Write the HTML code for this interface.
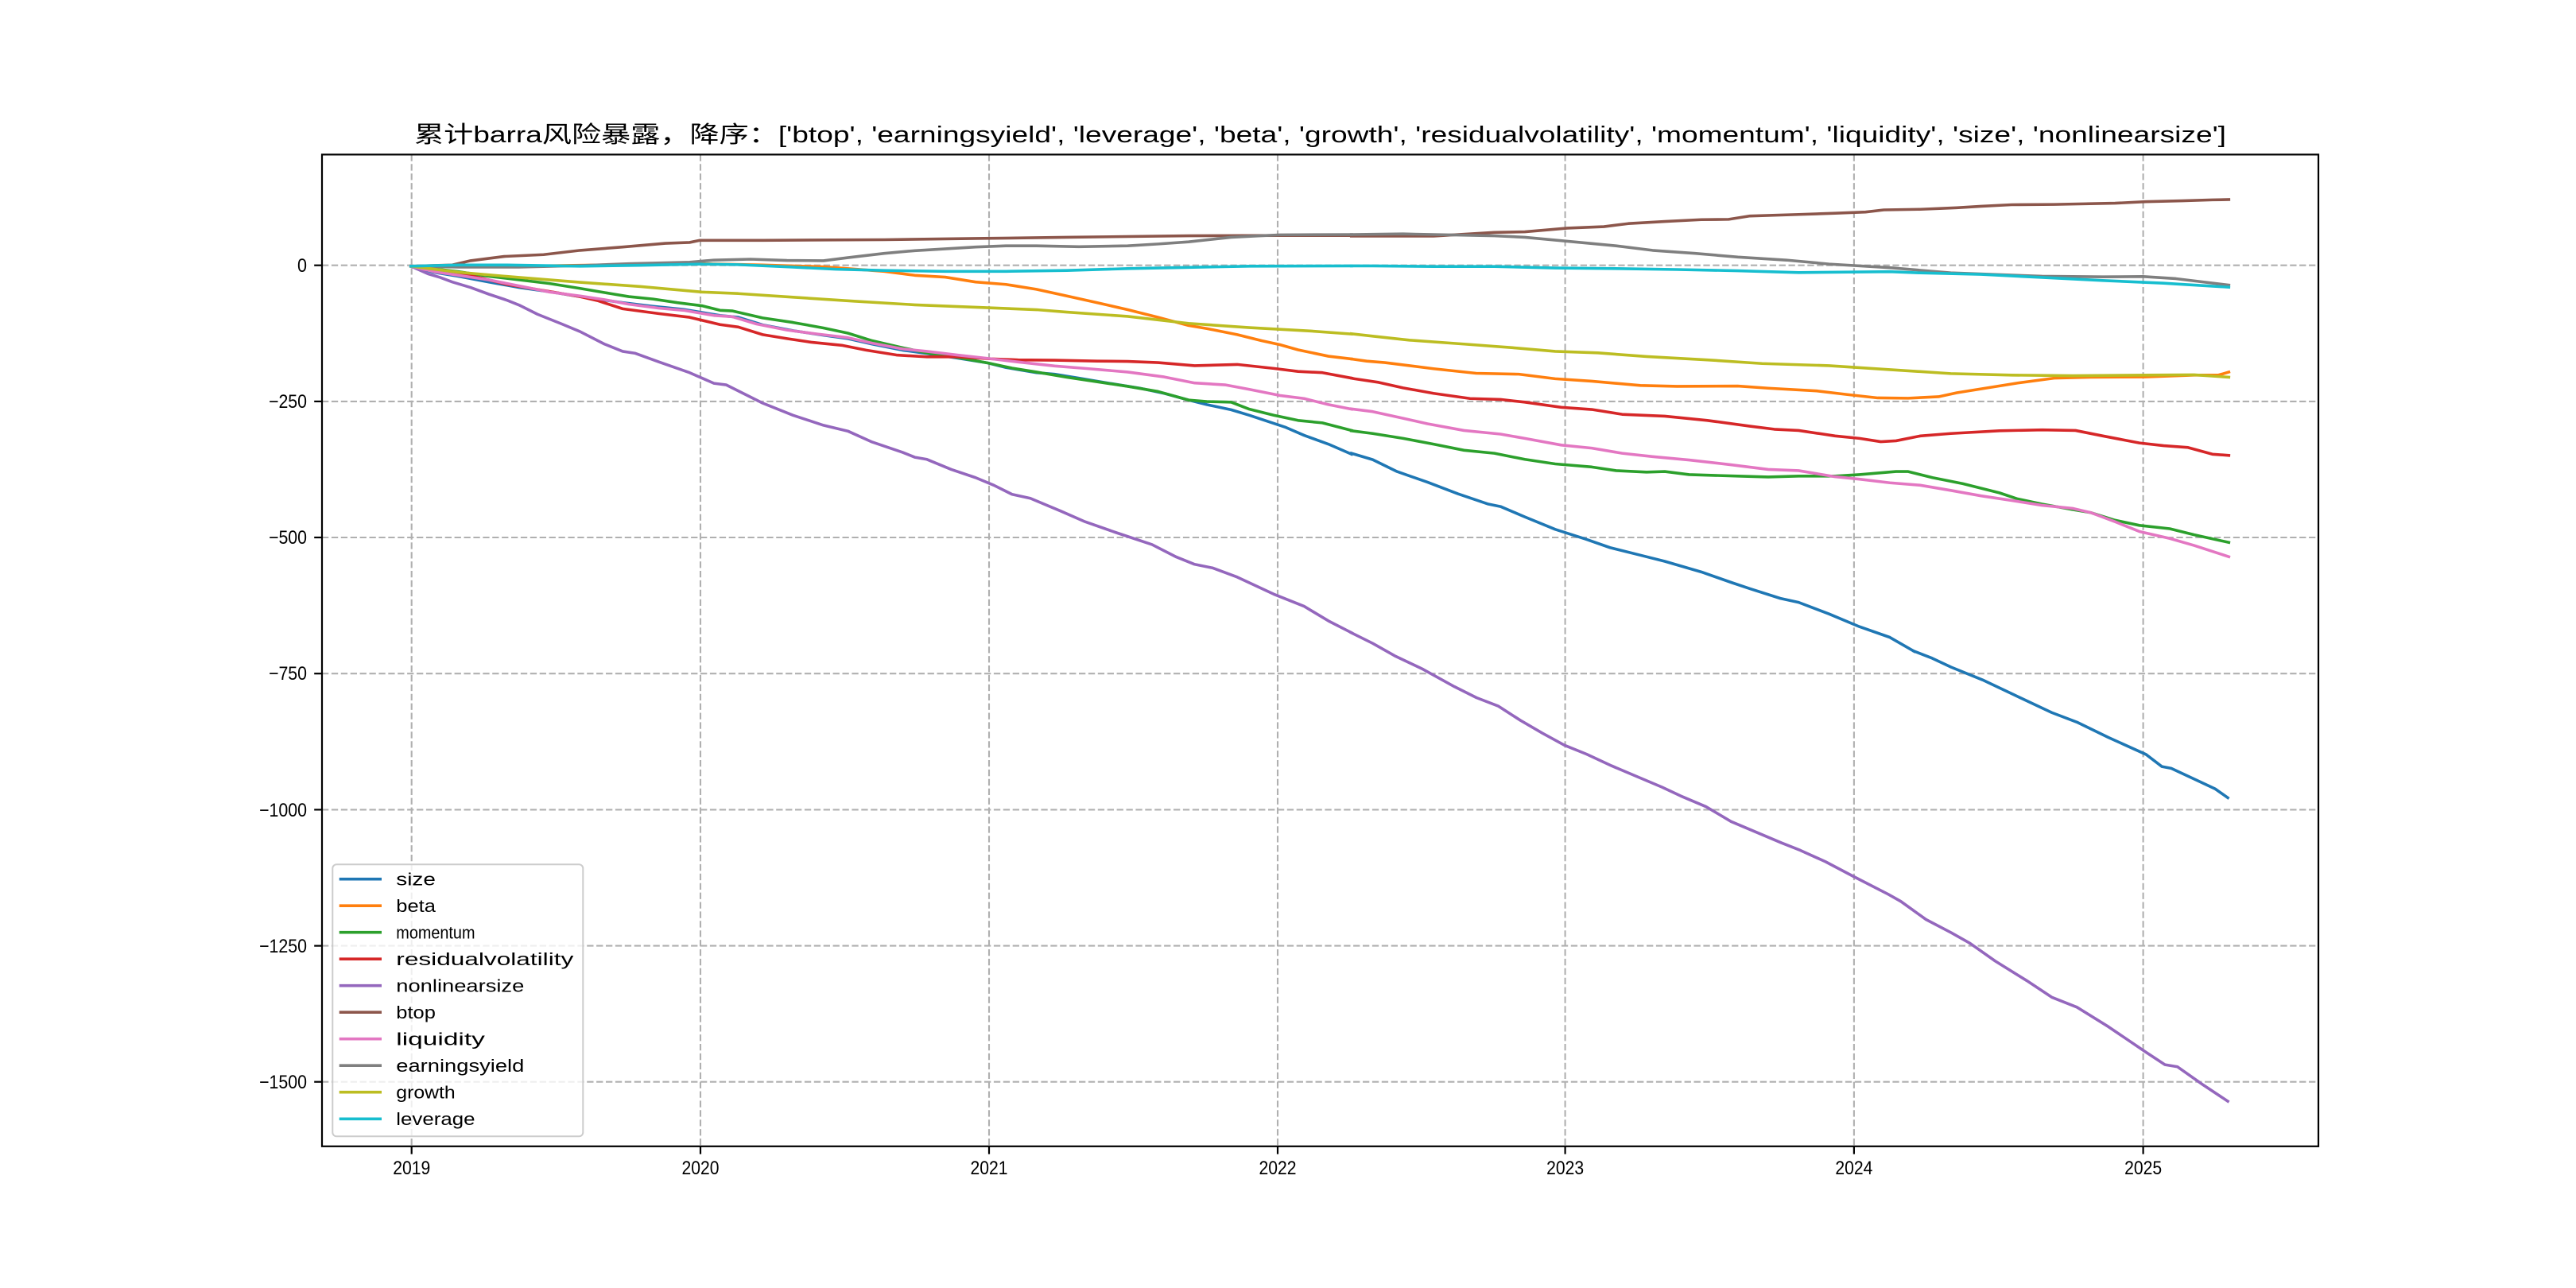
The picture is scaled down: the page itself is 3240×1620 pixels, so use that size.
<!DOCTYPE html>
<html><head><meta charset="utf-8"><style>
html,body{margin:0;padding:0;background:#fff;}
svg{display:block;}
text{font-family:"Liberation Sans","Noto Sans CJK SC",sans-serif;fill:#000;}
</style></head><body>
<svg width="3240" height="1620" viewBox="0 0 3240 1620" xmlns="http://www.w3.org/2000/svg">
<rect x="0" y="0" width="3240" height="1620" fill="#fff"/>
<!-- grid -->
<g stroke="#b0b0b0" stroke-width="2.1" stroke-dasharray="8.3 3.6" fill="none">
<line x1="517.7" y1="194.4" x2="517.7" y2="1441.8"/>
<line x1="881" y1="194.4" x2="881" y2="1441.8"/>
<line x1="1244" y1="194.4" x2="1244" y2="1441.8"/>
<line x1="1607" y1="194.4" x2="1607" y2="1441.8"/>
<line x1="1968.6" y1="194.4" x2="1968.6" y2="1441.8"/>
<line x1="2331.9" y1="194.4" x2="2331.9" y2="1441.8"/>
<line x1="2695.6" y1="194.4" x2="2695.6" y2="1441.8"/>
<line x1="405" y1="333.7" x2="2916" y2="333.7"/>
<line x1="405" y1="504.9" x2="2916" y2="504.9"/>
<line x1="405" y1="676" x2="2916" y2="676"/>
<line x1="405" y1="847.2" x2="2916" y2="847.2"/>
<line x1="405" y1="1018.4" x2="2916" y2="1018.4"/>
<line x1="405" y1="1189.6" x2="2916" y2="1189.6"/>
<line x1="405" y1="1360.7" x2="2916" y2="1360.7"/>
</g>
<!-- series -->
<g fill="none" stroke-width="3.6" stroke-linejoin="round" stroke-linecap="square">
<!-- size -->
<g stroke="#1f77b4">
<polyline vector-effect="non-scaling-stroke" transform="translate(500,220) scale(0.76531,0.38265)" points="22,300 60,320 100,333 150,352 200,370 250,384 300,400 370,420 420,432 470,442 530,462 560,468 600,493 650,512 700,527 740,538 780,556 830,576 870,587 920,602 970,618 1000,633 1050,650 1080,655 1120,668 1170,685 1220,701 1260,718 1300,740 1330,755 1370,772 1400,790 1430,810 1460,830 1490,856 1530,885 1568,918"/>
<polyline vector-effect="non-scaling-stroke" transform="translate(1650,220) scale(0.76531,0.38265)" points="65,915 100,936 140,975 190,1010 240,1048 290,1082 310,1090 350,1124 400,1165 450,1197 490,1225 540,1250 580,1270 640,1305 690,1340 720,1360 770,1392 800,1405 850,1443 900,1485 950,1520 990,1566"/>
<polyline vector-effect="non-scaling-stroke" transform="translate(1600,740) scale(0.79083,0.44643)" points="1021,177 1050,197 1080,222 1130,258 1180,300 1240,350 1280,377 1330,420 1390,468 1415,502 1430,507 1470,540 1500,565 1520,590"/>
</g>
<!-- beta -->
<g stroke="#ff7f0e">
<polyline vector-effect="non-scaling-stroke" transform="translate(500,220) scale(0.76531,0.38265)" points="22,300 200,300 400,294 500,292 600,296 700,302 800,317 850,330 900,336 950,352 1000,360 1050,376 1100,398 1150,420 1200,443 1250,468 1300,495 1330,505 1380,525 1420,545 1450,558 1480,575 1530,596 1568,605"/>
<polyline vector-effect="non-scaling-stroke" transform="translate(1650,220) scale(0.76531,0.38265)" points="65,605 90,612 120,617 200,637 270,652 340,655 400,670 460,678 540,692 600,695 700,694 750,701 830,710 880,722 930,733 980,734 1030,729 1060,716 1110,700 1160,684 1220,668 1280,665 1370,664 1450,658 1490,658 1507,648"/>
</g>
<!-- momentum -->
<g stroke="#2ca02c">
<polyline vector-effect="non-scaling-stroke" transform="translate(500,220) scale(0.76531,0.38265)" points="22,300 100,318 150,333 200,345 250,357 300,373 350,390 380,400 420,408 460,420 500,430 530,445 550,447 600,470 650,485 700,503 740,520 780,545 830,568 870,585 920,600 970,618 1010,635 1050,648 1100,665 1150,680 1200,695 1250,712 1300,740 1330,745 1370,747 1400,770 1440,790 1480,807 1520,815 1568,840"/>
<polyline vector-effect="non-scaling-stroke" transform="translate(1650,220) scale(0.76531,0.38265)" points="65,841 100,850 150,866 200,885 250,905 300,915 350,935 400,950 460,960 500,972 550,977 580,975 620,985 700,990 750,993 800,990 860,990 900,985 960,975 980,975 1020,995 1070,1015 1130,1045 1160,1065 1200,1082 1250,1100 1280,1110 1320,1135 1360,1152 1410,1163 1450,1183 1507,1208"/>
</g>
<!-- residualvolatility -->
<g stroke="#d62728">
<polyline vector-effect="non-scaling-stroke" transform="translate(500,220) scale(0.76531,0.38265)" points="22,300 60,313 100,323 140,340 180,360 240,380 300,400 330,414 370,440 430,456 480,468 530,492 560,500 600,525 640,538 680,550 730,560 770,576 820,592 870,598 920,598 970,604 1020,608 1080,609 1150,612 1200,613 1250,617 1310,627 1380,623 1440,636 1480,646 1520,650 1568,668"/>
<polyline vector-effect="non-scaling-stroke" transform="translate(1650,220) scale(0.76531,0.38265)" points="65,668 70,670 110,682 150,700 200,718 260,735 310,738 350,747 410,764 460,771 510,787 580,793 650,807 720,826 760,836 800,840 860,858 900,866 935,877 960,874 1000,858 1050,850 1130,841 1200,838 1255,840 1300,858 1360,881 1400,890 1440,896 1480,918 1507,922"/>
</g>
<!-- nonlinearsize -->
<g stroke="#9467bd">
<polyline vector-effect="non-scaling-stroke" transform="translate(500,220) scale(0.76531,0.38265)" points="22,300 50,325 70,337 90,352 120,370 150,392 180,412 200,428 230,458 270,490 300,515 340,556 370,580 390,586 430,615 480,650 520,685 540,690 570,720 600,750 650,790 700,823 740,842 780,878 830,912 850,928 870,935 910,968 950,995 980,1020 1010,1050 1040,1063 1090,1105 1130,1140 1180,1175 1240,1215 1280,1256 1310,1280 1340,1292 1380,1322 1440,1378 1490,1418 1530,1466 1568,1505"/>
<polyline vector-effect="non-scaling-stroke" transform="translate(1600,740) scale(0.79083,0.44643)" points="126,125 160,155 195,190 240,228 290,277 325,308 360,332 395,372 430,408 465,442 500,467 540,500 580,530 620,560 650,585 690,615 730,657 770,687 810,717 840,738 880,770 925,812 980,862 1000,882 1040,933 1080,970 1110,1000 1150,1050 1200,1105 1240,1152 1280,1180 1330,1235 1390,1307 1420,1342 1440,1348 1480,1398 1520,1445"/>
</g>
<!-- btop -->
<g stroke="#8c564b">
<polyline vector-effect="non-scaling-stroke" transform="translate(500,220) scale(0.76531,0.38265)" points="22,300 90,296 120,282 175,268 240,262 300,248 370,237 440,225 480,222 497,215 600,215 800,213 950,209 1100,205 1300,200 1450,199 1568,199"/>
<polyline vector-effect="non-scaling-stroke" transform="translate(1650,220) scale(0.76531,0.38265)" points="65,201 200,201 300,189 350,187 420,175 480,170 520,160 580,153 640,147 685,146 720,135 800,130 860,126 910,122 940,115 1000,113 1060,108 1100,103 1150,98 1220,97 1320,93 1370,88 1430,85 1480,82 1507,81"/>
</g>
<!-- liquidity -->
<g stroke="#e377c2">
<polyline vector-effect="non-scaling-stroke" transform="translate(500,220) scale(0.76531,0.38265)" points="22,300 60,318 100,330 150,345 200,365 250,385 300,398 340,410 380,425 430,438 470,445 520,462 550,466 590,490 640,510 690,523 740,535 780,553 830,572 870,580 920,592 970,603 1020,615 1080,628 1130,636 1200,648 1260,664 1310,684 1360,690 1400,705 1450,725 1490,735 1530,755 1568,770"/>
<polyline vector-effect="non-scaling-stroke" transform="translate(1650,220) scale(0.76531,0.38265)" points="65,769 100,778 150,800 190,818 250,840 310,852 350,866 410,888 460,898 510,915 560,926 620,937 690,953 750,968 800,972 860,992 900,1000 950,1012 1000,1020 1050,1037 1100,1055 1150,1070 1200,1086 1250,1096 1280,1110 1320,1140 1360,1172 1410,1195 1450,1218 1507,1255"/>
</g>
<!-- earningsyield -->
<g stroke="#7f7f7f">
<polyline vector-effect="non-scaling-stroke" transform="translate(500,220) scale(0.76531,0.38265)" points="22,300 100,303 200,303 300,298 380,292 480,287 520,280 580,277 640,281 700,282 740,272 800,258 850,249 950,237 1000,233 1050,233 1120,236 1200,233 1250,227 1300,220 1370,205 1450,197 1568,196"/>
<polyline vector-effect="non-scaling-stroke" transform="translate(1650,220) scale(0.76531,0.38265)" points="65,196 150,194 300,200 350,205 420,218 500,233 560,248 630,258 700,270 780,280 850,293 950,305 1050,322 1200,333 1300,335 1366,334 1420,341 1507,362"/>
</g>
<!-- growth -->
<g stroke="#bcbd22">
<polyline vector-effect="non-scaling-stroke" transform="translate(500,220) scale(0.76531,0.38265)" points="22,300 100,320 200,337 300,353 400,367 500,385 560,390 650,402 750,415 850,427 950,435 1050,443 1100,451 1200,465 1300,488 1400,502 1500,513 1568,523"/>
<polyline vector-effect="non-scaling-stroke" transform="translate(1650,220) scale(0.76531,0.38265)" points="65,522 100,530 160,543 250,556 330,568 400,580 470,585 550,597 650,608 740,620 850,627 950,640 1050,653 1150,658 1250,660 1370,658 1450,657 1507,665"/>
</g>
<!-- leverage -->
<g stroke="#17becf">
<polyline vector-effect="non-scaling-stroke" transform="translate(500,220) scale(0.76531,0.38265)" points="22,300 100,296 180,296 300,300 400,297 500,293 560,295 650,303 720,310 800,314 900,317 1000,317 1100,314 1200,308 1300,304 1400,300 1568,299"/>
<polyline vector-effect="non-scaling-stroke" transform="translate(1650,220) scale(0.76531,0.38265)" points="65,299 100,299 200,301 300,301 400,306 500,308 600,311 700,315 800,321 900,319 950,318 1000,322 1100,327 1200,337 1300,347 1400,356 1507,369"/>
</g>
</g>
<!-- spines -->
<rect x="405" y="194.4" width="2511" height="1247.4" fill="none" stroke="#000" stroke-width="2.2"/>
<!-- ticks -->
<g stroke="#000" stroke-width="2.2">
<line x1="395.2" y1="333.7" x2="405" y2="333.7"/>
<line x1="395.2" y1="504.9" x2="405" y2="504.9"/>
<line x1="395.2" y1="676" x2="405" y2="676"/>
<line x1="395.2" y1="847.2" x2="405" y2="847.2"/>
<line x1="395.2" y1="1018.4" x2="405" y2="1018.4"/>
<line x1="395.2" y1="1189.6" x2="405" y2="1189.6"/>
<line x1="395.2" y1="1360.7" x2="405" y2="1360.7"/>
<line x1="517.7" y1="1441.8" x2="517.7" y2="1451.6"/>
<line x1="881" y1="1441.8" x2="881" y2="1451.6"/>
<line x1="1244" y1="1441.8" x2="1244" y2="1451.6"/>
<line x1="1607" y1="1441.8" x2="1607" y2="1451.6"/>
<line x1="1968.6" y1="1441.8" x2="1968.6" y2="1451.6"/>
<line x1="2331.9" y1="1441.8" x2="2331.9" y2="1451.6"/>
<line x1="2695.6" y1="1441.8" x2="2695.6" y2="1451.6"/>
</g>
<!-- tick labels -->
<g font-size="24" text-anchor="end">
<text x="386" y="342" textLength="12" lengthAdjust="spacingAndGlyphs">0</text>
<text x="386" y="513" textLength="48" lengthAdjust="spacingAndGlyphs">−250</text>
<text x="386" y="684" textLength="48" lengthAdjust="spacingAndGlyphs">−500</text>
<text x="386" y="855" textLength="48" lengthAdjust="spacingAndGlyphs">−750</text>
<text x="386" y="1027" textLength="60" lengthAdjust="spacingAndGlyphs">−1000</text>
<text x="386" y="1198" textLength="60" lengthAdjust="spacingAndGlyphs">−1250</text>
<text x="386" y="1369" textLength="60" lengthAdjust="spacingAndGlyphs">−1500</text>
</g>
<g font-size="24" text-anchor="middle">
<text x="517.7" y="1477" textLength="47" lengthAdjust="spacingAndGlyphs">2019</text>
<text x="881" y="1477" textLength="47" lengthAdjust="spacingAndGlyphs">2020</text>
<text x="1244" y="1477" textLength="47" lengthAdjust="spacingAndGlyphs">2021</text>
<text x="1607" y="1477" textLength="47" lengthAdjust="spacingAndGlyphs">2022</text>
<text x="1968.6" y="1477" textLength="47" lengthAdjust="spacingAndGlyphs">2023</text>
<text x="2331.9" y="1477" textLength="47" lengthAdjust="spacingAndGlyphs">2024</text>
<text x="2695.6" y="1477" textLength="47" lengthAdjust="spacingAndGlyphs">2025</text>
</g>
<!-- title -->
<text x="1660.5" y="179" font-size="29" text-anchor="middle" textLength="2279" lengthAdjust="spacingAndGlyphs">累计barra风险暴露，降序：['btop', 'earningsyield', 'leverage', 'beta', 'growth', 'residualvolatility', 'momentum', 'liquidity', 'size', 'nonlinearsize']</text>
<!-- legend -->
<rect x="418.3" y="1087.3" width="315" height="342" rx="5" ry="5" fill="#fff" fill-opacity="0.8" stroke="#cccccc" stroke-width="2"/>
<g stroke-width="3.6">
<line x1="426.7" y1="1105.7" x2="480" y2="1105.7" stroke="#1f77b4"/>
<line x1="426.7" y1="1139.2" x2="480" y2="1139.2" stroke="#ff7f0e"/>
<line x1="426.7" y1="1172.7" x2="480" y2="1172.7" stroke="#2ca02c"/>
<line x1="426.7" y1="1206.2" x2="480" y2="1206.2" stroke="#d62728"/>
<line x1="426.7" y1="1239.7" x2="480" y2="1239.7" stroke="#9467bd"/>
<line x1="426.7" y1="1273.2" x2="480" y2="1273.2" stroke="#8c564b"/>
<line x1="426.7" y1="1306.7" x2="480" y2="1306.7" stroke="#e377c2"/>
<line x1="426.7" y1="1340.2" x2="480" y2="1340.2" stroke="#7f7f7f"/>
<line x1="426.7" y1="1373.7" x2="480" y2="1373.7" stroke="#bcbd22"/>
<line x1="426.7" y1="1407.3" x2="480" y2="1407.3" stroke="#17becf"/>
</g>
<g font-size="22">
<text x="498.3" y="1113.3" textLength="49.6" lengthAdjust="spacingAndGlyphs">size</text>
<text x="498.3" y="1146.8" textLength="49.6" lengthAdjust="spacingAndGlyphs">beta</text>
<text x="498.3" y="1180.3" textLength="99.2" lengthAdjust="spacingAndGlyphs">momentum</text>
<text x="498.3" y="1213.8" textLength="223" lengthAdjust="spacingAndGlyphs">residualvolatility</text>
<text x="498.3" y="1247.3" textLength="161" lengthAdjust="spacingAndGlyphs">nonlinearsize</text>
<text x="498.3" y="1280.8" textLength="49.6" lengthAdjust="spacingAndGlyphs">btop</text>
<text x="498.3" y="1314.3" textLength="111.6" lengthAdjust="spacingAndGlyphs">liquidity</text>
<text x="498.3" y="1347.8" textLength="161" lengthAdjust="spacingAndGlyphs">earningsyield</text>
<text x="498.3" y="1381.3" textLength="74.4" lengthAdjust="spacingAndGlyphs">growth</text>
<text x="498.3" y="1414.9" textLength="99.2" lengthAdjust="spacingAndGlyphs">leverage</text>
</g>
</svg>
</body></html>
